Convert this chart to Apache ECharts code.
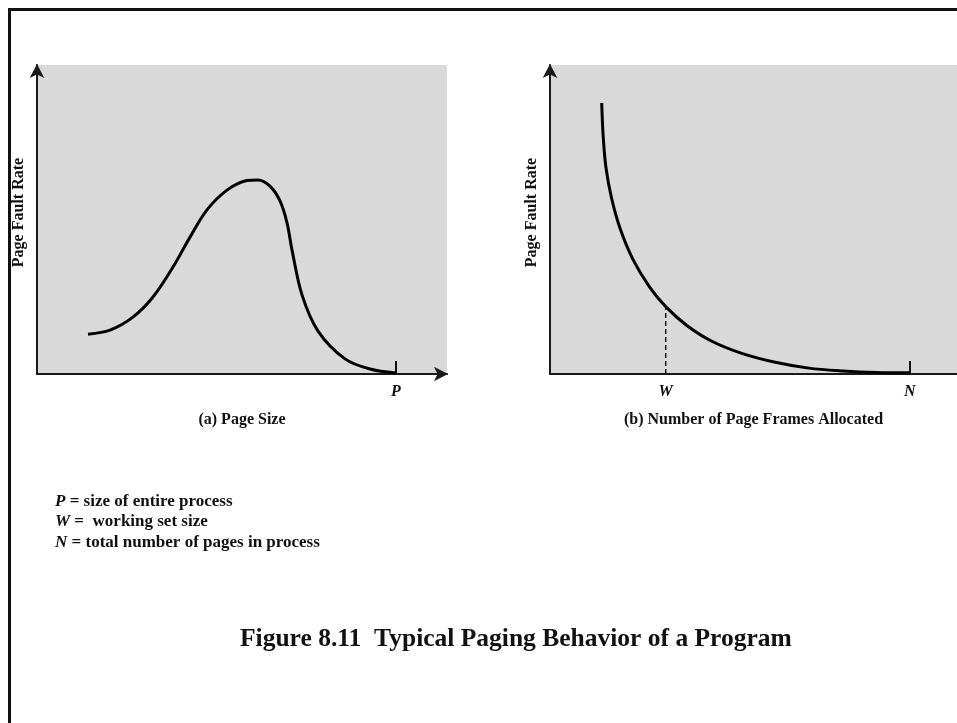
<!DOCTYPE html>
<html>
<head>
<meta charset="utf-8">
<script src="https://cdn.jsdelivr.net/npm/echarts@6/dist/echarts.min.js"></script>
<style>
  html, body { margin: 0; padding: 0; background: #fff; }
  #frame { position: absolute; left: 8px; top: 8px; width: 949px; height: 715px;
           border-top: 3px solid #111; border-left: 3px solid #111; box-sizing: border-box; }
  #chart { position: absolute; left: 0; top: 0; width: 957px; height: 723px; }
</style>
</head>
<body>
<div id="frame"></div>
<div id="chart"></div>
<script>
// (a) Page fault rate vs page size
const pageSizeX = [12.44, 17.80, 23.41, 28.29, 33.17, 37.32, 41.46, 46.34, 51.22, 53.90, 56.83, 59.27, 60.98, 62.20, 64.63, 68.54, 75.12, 81.22, 87.56];
const pageSizeY = [12.9, 14.2, 18.4, 24.9, 34.6, 44.3, 53.1, 59.5, 62.6, 62.8, 60.8, 56.0, 48.9, 40.1, 25.6, 13.9, 4.9, 1.6, 0.3];
// (b) Page fault rate vs number of page frames allocated
const framesX = [12.70, 13.05, 13.73, 15.11, 17.27, 20.34, 24.40, 28.43, 33.54, 39.78, 47.30, 55.36, 63.60, 71.92, 80.27, 88.38];
const framesY = [87.7, 77.3, 67.0, 57.0, 46.9, 37.2, 28.3, 21.8, 15.8, 10.6, 6.6, 3.8, 1.9, 1.0, 0.5, 0.4];
// marked positions on the x axes
const P_VALUE = 87.56;
const W_VALUE = 28.43;
const N_VALUE = 88.38;
const W_INDEX = 7; // framesX[7] is the working set size
// texts
const yAxisTitle = 'Page Fault Rate';
const xTitleA = '(a) Page Size';
const xTitleB = '(b) Number of Page Frames Allocated';
const legendLines = [['P', ' = size of entire process'], ['W', ' =  working set size'], ['N', ' = total number of pages in process']];
const figureTitle = 'Figure 8.11  Typical Paging Behavior of a Program';

const serif = '"Liberation Serif", "Times New Roman", serif';
const zip = (xs, ys) => xs.map((x, i) => [x, ys[i]]);

const axisLineStyle = { color: '#1a1a1a', width: 2 };
function yAxisCfg(grid) {
  return {
    type: 'value', gridIndex: grid, min: 0, max: 100,
    name: yAxisTitle, nameLocation: 'middle', nameGap: 10,
    nameTextStyle: { fontFamily: serif, fontWeight: 'bold', fontSize: 16, color: '#111', padding: [0, 0, 0, 14] },
    axisLine: { show: true, lineStyle: axisLineStyle, symbol: ['none', 'arrow'], symbolSize: [11, 14], symbolOffset: [0, 1] },
    axisTick: { show: false }, axisLabel: { show: false }, splitLine: { show: false }
  };
}
const labelStyle = { fontFamily: serif, fontWeight: 'bold', fontStyle: 'italic', fontSize: 16, color: '#111', margin: 10 };
const nameStyle = { fontFamily: serif, fontWeight: 'bold', fontSize: 16, color: '#111' };

const option = {
  animation: false,
  backgroundColor: 'transparent',
  title: [
    {
      text: legendLines.map(l => '{i|' + l[0] + '}' + l[1]).join('\n'),
      left: 50, top: 486,
      textStyle: {
        fontFamily: serif, fontWeight: 'bold', fontSize: 17, color: '#111', lineHeight: 20.5,
        rich: { i: { fontFamily: serif, fontWeight: 'bold', fontStyle: 'italic', fontSize: 17, color: '#111', lineHeight: 20.5 } }
      }
    },
    {
      text: figureTitle, left: 235, top: 621,
      textStyle: { fontFamily: serif, fontWeight: 'bold', fontSize: 25.5, color: '#111' }
    }
  ],
  grid: [
    { left: 37, top: 65, width: 410, height: 309, show: true, backgroundColor: '#d9d9d9', borderWidth: 0 },
    { left: 550, top: 65, right: 0, height: 309, show: true, backgroundColor: '#d9d9d9', borderWidth: 0 }
  ],
  xAxis: [
    {
      type: 'value', gridIndex: 0, min: 0, max: 100,
      name: xTitleA, nameLocation: 'middle', nameGap: 38, nameTextStyle: nameStyle,
      axisLine: { show: true, lineStyle: axisLineStyle, symbol: ['none', 'arrow'], symbolSize: [11, 14], symbolOffset: [0, 1] },
      axisTick: { show: true, inside: true, length: 13, customValues: [P_VALUE], lineStyle: { color: '#111', width: 2 } },
      axisLabel: Object.assign({ show: true, customValues: [P_VALUE], formatter: () => 'P' }, labelStyle),
      splitLine: { show: false }
    },
    {
      type: 'value', gridIndex: 1, min: 0, max: 100,
      name: xTitleB, nameLocation: 'middle', nameGap: 38, nameTextStyle: nameStyle,
      axisLine: { show: true, lineStyle: axisLineStyle, symbol: ['none', 'none'] },
      axisTick: { show: true, inside: true, length: 13, customValues: [N_VALUE], lineStyle: { color: '#111', width: 2 } },
      axisLabel: Object.assign({ show: true, customValues: [W_VALUE, N_VALUE], formatter: v => (Math.abs(v - W_VALUE) < 1e-6 ? 'W' : 'N') }, labelStyle),
      splitLine: { show: false }
    }
  ],
  yAxis: [yAxisCfg(0), yAxisCfg(1)],
  series: [
    {
      type: 'line', xAxisIndex: 0, yAxisIndex: 0, data: zip(pageSizeX, pageSizeY),
      smooth: 0.33, showSymbol: false, lineStyle: { color: '#000', width: 3, join: 'round' }
    },
    {
      type: 'line', xAxisIndex: 1, yAxisIndex: 1, data: zip(framesX, framesY),
      smooth: 0.33, showSymbol: false, lineStyle: { color: '#000', width: 3, join: 'round' }
    },
    {
      type: 'line', xAxisIndex: 1, yAxisIndex: 1,
      data: [[W_VALUE, 0], [framesX[W_INDEX], framesY[W_INDEX]]],
      showSymbol: false, lineStyle: { color: '#111', width: 1.5, type: [5, 3] }
    }
  ]
};
const chart = echarts.init(document.getElementById('chart'), null, { renderer: 'canvas' });
chart.setOption(option);
</script>
</body>
</html>
